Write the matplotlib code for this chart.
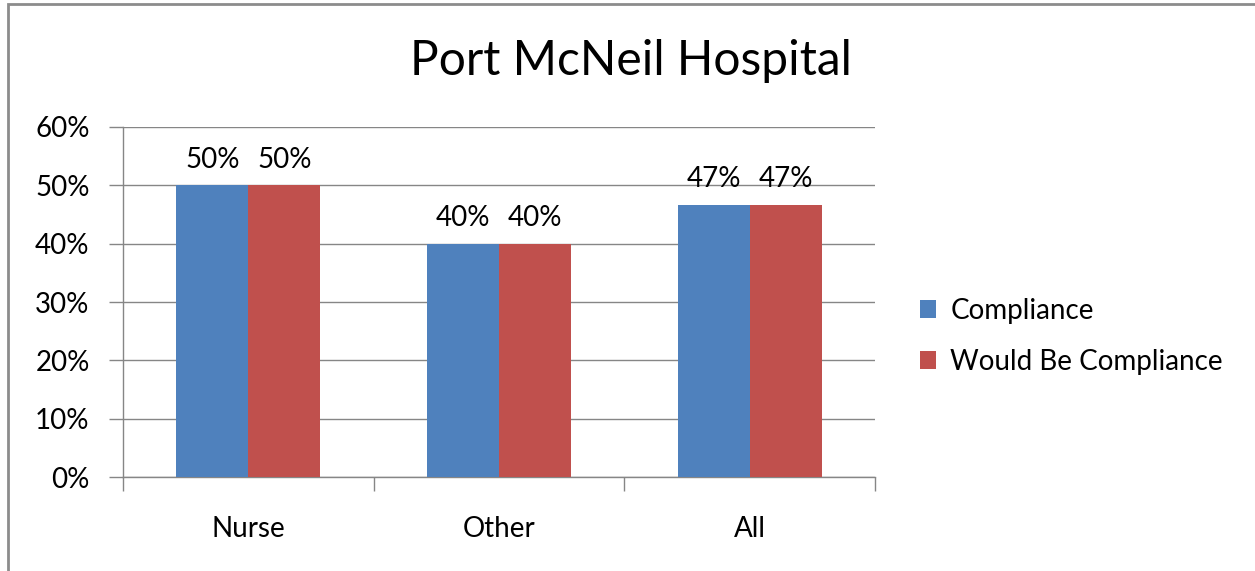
import numpy as np
import matplotlib.pyplot as plt
from matplotlib.patches import Rectangle
from matplotlib.ticker import PercentFormatter

plt.rcParams['font.family'] = ['Lato', 'DejaVu Sans']

categories = ["Nurse", "Other", "All"]
compliance = [0.50, 0.40, 0.4667]
would_be = [0.50, 0.40, 0.4667]
labels_c = ["50%", "40%", "47%"]
labels_w = ["50%", "40%", "47%"]

blue = "#4F81BD"
red = "#C0504D"
grid = "#868686"
fs = 20

fig = plt.figure(figsize=(12.55, 5.71), dpi=100)
ax = fig.add_axes([0.098, 0.1646, 0.5992, 0.613])

x = np.arange(len(categories))
w = 0.287
b1 = ax.bar(x - w / 2, compliance, w, color=blue, label="Compliance", zorder=3)
b2 = ax.bar(x + w / 2, would_be, w, color=red, label="Would Be Compliance", zorder=3)
ax.bar_label(b1, labels=labels_c, padding=9, fontsize=fs)
ax.bar_label(b2, labels=labels_w, padding=9, fontsize=fs)

ax.set_ylim(0, 0.6)
ax.set_xlim(-0.5, 2.5)
ax.set_yticks(np.arange(0, 0.61, 0.1))
ax.yaxis.set_major_formatter(PercentFormatter(1.0, decimals=0))
ax.yaxis.grid(True, color=grid, lw=1, zorder=0)
ax.set_axisbelow(True)

ax.set_xticks(x)
ax.set_xticklabels(categories)
ax.set_xticks([-0.5, 0.5, 1.5, 2.5], minor=True)
ax.tick_params(axis="x", which="major", length=0, pad=28, labelsize=fs)
ax.tick_params(axis="x", which="minor", length=10, color=grid, width=1)
ax.tick_params(axis="y", length=10, color=grid, width=1, pad=14, labelsize=fs)

for s in ["top", "right"]:
    ax.spines[s].set_visible(False)
for s in ["left", "bottom"]:
    ax.spines[s].set_color(grid)
    ax.spines[s].set_linewidth(1)

fig.text(0.503, 0.893, "Port McNeil Hospital", ha="center", va="center", fontsize=34.5)

fig.legend(loc="center left", bbox_to_anchor=(0.713, 0.411), frameon=False,
           fontsize=fs, handlelength=0.6, handleheight=0.6, handletextpad=0.5,
           labelspacing=0.9)

fig.add_artist(Rectangle((8 / 1255, -0.05), 1.1, 1 - 4 / 571 + 0.05, transform=fig.transFigure,
                         fill=False, edgecolor="#8c8c8c", lw=2, clip_on=False))

fig.savefig("out.png", dpi=100)
